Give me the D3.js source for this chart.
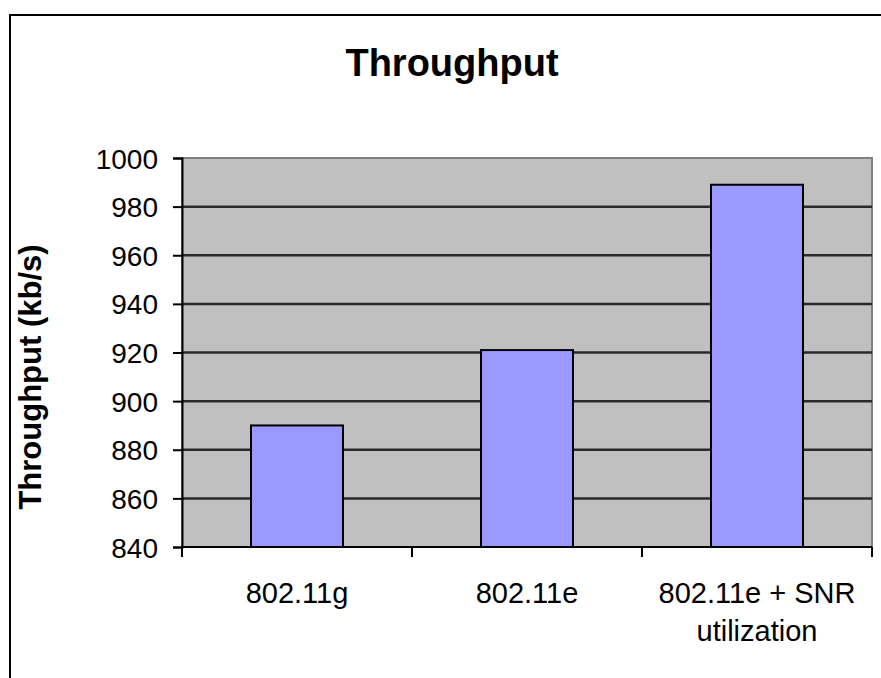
<!DOCTYPE html>
<html>
<head>
<meta charset="utf-8">
<script src="https://cdn.jsdelivr.net/npm/d3@7"></script>
<style>
  html, body { margin: 0; padding: 0; background: #fff; }
  svg { display: block; }
  text { font-family: "Liberation Sans", Arial, sans-serif; fill: #000; }
</style>
</head>
<body>
<svg id="chart" width="881" height="678"></svg>
<script>
// Throughput per MAC configuration (kb/s)
const categories = ["802.11g", "802.11e", "802.11e + SNR utilization"];
const categoryLines = [["802.11g"], ["802.11e"], ["802.11e + SNR", "utilization"]];
const throughput = [890, 921, 989];
const yTicks = [840, 860, 880, 900, 920, 940, 960, 980, 1000];
const titleText = "Throughput";
const yAxisTitle = "Throughput (kb/s)";

const svg = d3.select("#chart");
const plot = { left: 182, right: 872, top: 158, bottom: 547 };

// chart frame
svg.append("rect")
  .attr("x", 10).attr("y", 15)
  .attr("width", 900).attr("height", 700)
  .attr("fill", "#fff").attr("stroke", "#000").attr("stroke-width", 2);

const x = d3.scaleBand().domain(categories).range([plot.left, plot.right]).padding(0);
const xBar = d3.scaleBand().domain(categories).range([plot.left, plot.right])
  .paddingInner(0.6).paddingOuter(0.3);
const y = d3.scaleLinear().domain([840, 1000]).range([plot.bottom, plot.top]);

// plot background
svg.append("rect")
  .attr("x", plot.left).attr("y", plot.top)
  .attr("width", plot.right - plot.left).attr("height", plot.bottom - plot.top)
  .attr("fill", "#c0c0c0").attr("stroke", "#808080").attr("stroke-width", 2);

// horizontal gridlines
svg.append("g").selectAll("line")
  .data(yTicks.filter(t => t > 840 && t < 1000))
  .join("line")
  .attr("x1", plot.left).attr("x2", plot.right)
  .attr("y1", d => y(d)).attr("y2", d => y(d))
  .attr("stroke", "#2a2a2a").attr("stroke-width", 2.5);

// bars
svg.append("g").selectAll("rect")
  .data(throughput)
  .join("rect")
  .attr("x", (d, i) => xBar(categories[i]))
  .attr("width", xBar.bandwidth())
  .attr("y", d => y(d))
  .attr("height", d => y(840) - y(d))
  .attr("fill", "#9999ff")
  .attr("stroke", "#000").attr("stroke-width", 2);

// y axis
const yAxis = svg.append("g")
  .attr("transform", `translate(${plot.left},0)`)
  .call(d3.axisLeft(y).tickValues(yTicks).tickSize(9).tickPadding(15).tickFormat(d3.format("d")));
yAxis.select(".domain").attr("stroke", "#000").attr("stroke-width", 2);
yAxis.selectAll(".tick line").attr("stroke", "#000").attr("stroke-width", 2);
yAxis.selectAll(".tick text")
  .attr("font-size", 28)
  .attr("dy", "0.36em")
  .attr("font-family", "Liberation Sans, Arial, sans-serif")
  .attr("fill", "#000");

// x axis: boundary ticks between categories
const xAxisG = svg.append("g");
xAxisG.append("line")
  .attr("x1", plot.left).attr("x2", plot.right)
  .attr("y1", plot.bottom).attr("y2", plot.bottom)
  .attr("stroke", "#000").attr("stroke-width", 2);
const boundaries = categories.map(c => x(c)).concat([x(categories[categories.length - 1]) + x.bandwidth()]);
xAxisG.selectAll("line.bt")
  .data(boundaries)
  .join("line")
  .attr("class", "bt")
  .attr("x1", d => d).attr("x2", d => d)
  .attr("y1", plot.bottom).attr("y2", plot.bottom + 10)
  .attr("stroke", "#000").attr("stroke-width", 2);

// category labels
const labelG = svg.append("g");
categories.forEach((c, i) => {
  const t = labelG.append("text")
    .attr("x", x(c) + x.bandwidth() / 2)
    .attr("y", 603)
    .attr("text-anchor", "middle")
    .attr("font-size", 29);
  categoryLines[i].forEach((line, j) => {
    t.append("tspan")
      .attr("x", x(c) + x.bandwidth() / 2)
      .attr("dy", j === 0 ? 0 : 38)
      .text(line);
  });
});

// title
svg.append("text")
  .attr("x", 452).attr("y", 76)
  .attr("text-anchor", "middle")
  .attr("font-size", 38).attr("font-weight", "bold")
  .text(titleText);

// y axis title
svg.append("text")
  .attr("transform", `translate(41,377) rotate(-90)`)
  .attr("text-anchor", "middle")
  .attr("font-size", 31).attr("font-weight", "bold")
  .text(yAxisTitle);
</script>
</body>
</html>
